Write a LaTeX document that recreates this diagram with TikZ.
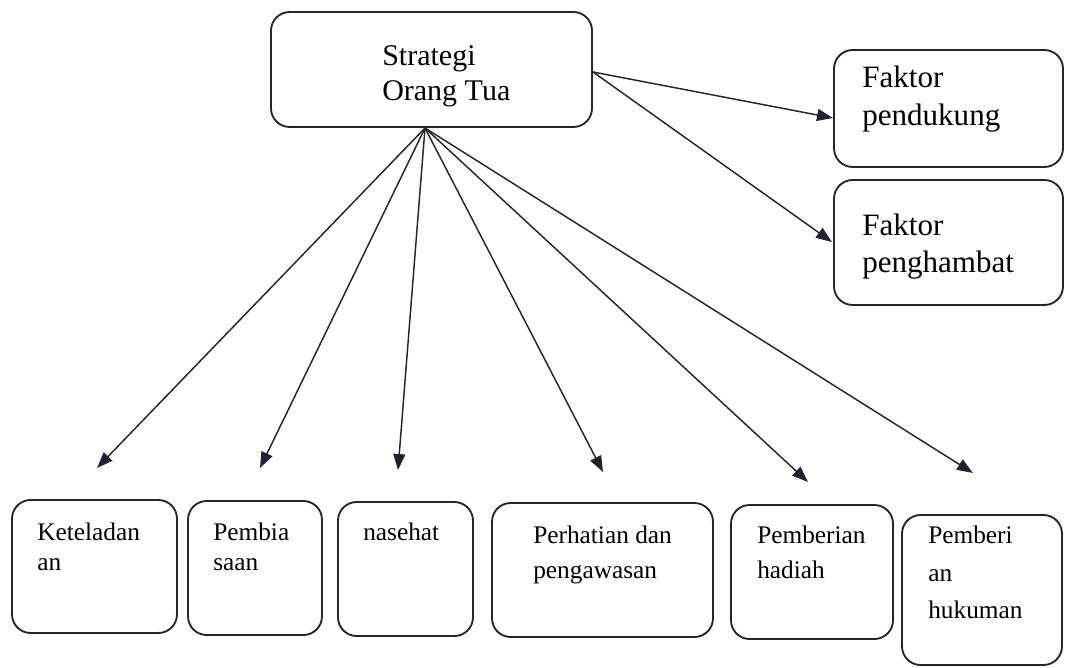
\documentclass[tikz,border=0pt]{standalone}
\usepackage{fontspec}
\setmainfont{Liberation Serif}
\usetikzlibrary{arrows.meta,fit}
\definecolor{tipcol}{RGB}{30,30,60}
\begin{document}
\begin{tikzpicture}[x=0.75pt,y=-0.75pt,
 box/.style={draw=black!85, line width=1.4pt, rounded corners=14pt, inner sep=0pt},
 arr/.style={draw=black!85, line width=1.1pt, -{Triangle[length=12pt,width=9pt,fill=tipcol]}},
 topt/.style={font=\fontsize{22.5}{27}\selectfont, anchor=base west, inner sep=0pt},
 bigt/.style={font=\fontsize{23.3}{28}\selectfont, anchor=base west, inner sep=0pt},
 smallt/.style={font=\fontsize{19}{22}\selectfont, anchor=base west, inner sep=0pt}]
\useasboundingbox (0,0) rectangle (1065,668);
% boxes
\node[box, fit={(271,12) (592,127)}] (s) {};
\node[box, fit={(834,50) (1063,167)}] (f1) {};
\node[box, fit={(834,180) (1063,305)}] (f2) {};
\node[box, fit={(12,500) (177,633)}] (b1) {};
\node[box, fit={(188,501) (322,635)}] (b2) {};
\node[box, fit={(338,502) (473,636)}] (b3) {};
\node[box, fit={(492,503) (713,637)}] (b4) {};
\node[box, fit={(731,505) (893,639)}] (b5) {};
\node[box, fit={(902,515) (1062,665)}] (b6) {};
% texts
\node[topt] (s1) at (382,65) {Strategi};
\node[topt] (s2) at (382,100) {Orang Tua};
\node[bigt] (f1a) at (862,87) {Faktor};
\node[bigt] (f1b) at (862,125) {pendukung};
\node[bigt] (f2a) at (862,235) {Faktor};
\node[bigt] (f2b) at (862,272) {penghambat};
\node[smallt] (b1a) at (37,540) {Keteladan};
\node[smallt] (b1b) at (37,570) {an};
\node[smallt] (b2a) at (213,540) {Pembia};
\node[smallt] (b2b) at (213,570) {saan};
\node[smallt] (b3a) at (363,540) {nasehat};
\node[smallt] (b4a) at (533,543) {Perhatian dan};
\node[smallt] (b4b) at (533,578) {pengawasan};
\node[smallt] (b5a) at (757,543) {Pemberian};
\node[smallt] (b5b) at (757,578) {hadiah};
\node[smallt] (b6a) at (928,543) {Pemberi};
\node[smallt] (b6b) at (928,581) {an};
\node[smallt] (b6c) at (928,618) {hukuman};
% connector ends
\coordinate (o) at (425,128);
\coordinate (or) at (593,72);
\coordinate (e1) at (97,468);
\coordinate (e2) at (260,468);
\coordinate (e3) at (398,470);
\coordinate (e4) at (603,472);
\coordinate (e5) at (808,482);
\coordinate (e6) at (973,473);
\coordinate (ef1) at (833,118);
\coordinate (ef2) at (832,242);
\draw[arr] (o) -- (e1);
\draw[arr] (o) -- (e2);
\draw[arr] (o) -- (e3);
\draw[arr] (o) -- (e4);
\draw[arr] (o) -- (e5);
\draw[arr] (o) -- (e6);
\draw[arr] (or) -- (ef1);
\draw[arr] (or) -- (ef2);
\end{tikzpicture}
\end{document}
